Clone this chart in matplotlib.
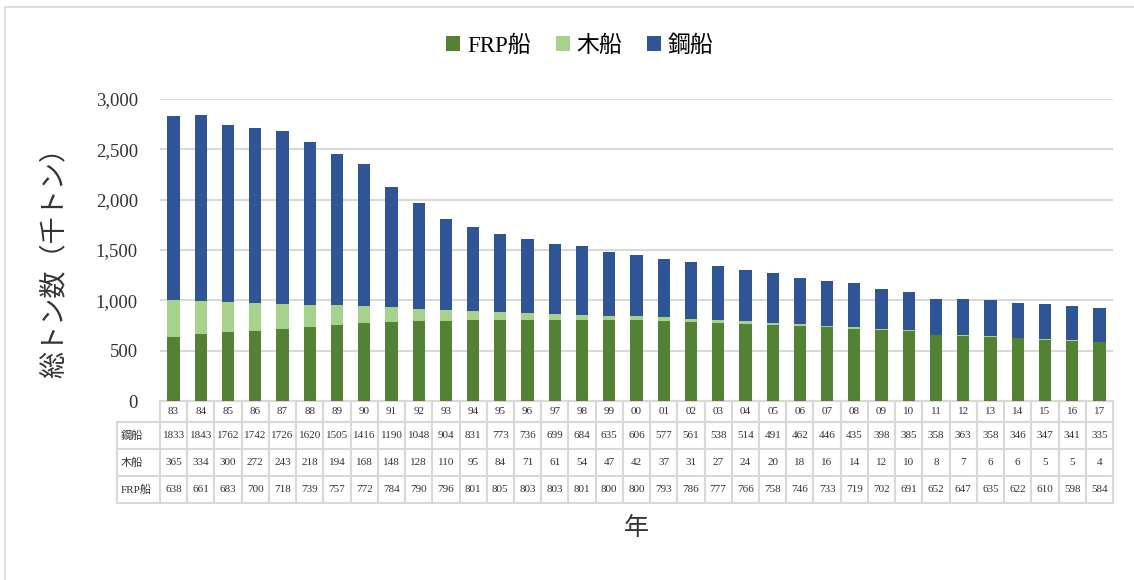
import matplotlib
matplotlib.use("Agg")
import matplotlib.pyplot as plt
from matplotlib.patches import Rectangle
import numpy as np

FONT = ['Liberation Serif', 'Noto Sans CJK JP', 'DejaVu Sans']
plt.rcParams['font.family'] = FONT

# データ（千トン）
years = ["83", "84", "85", "86", "87", "88", "89", "90", "91", "92", "93", "94", "95", "96", "97", "98", "99",
         "00", "01", "02", "03", "04", "05", "06", "07", "08", "09", "10", "11", "12", "13", "14", "15", "16", "17"]
steel = [1833, 1843, 1762, 1742, 1726, 1620, 1505, 1416, 1190, 1048, 904, 831, 773, 736, 699, 684, 635,
         606, 577, 561, 538, 514, 491, 462, 446, 435, 398, 385, 358, 363, 358, 346, 347, 341, 335]
wood = [365, 334, 300, 272, 243, 218, 194, 168, 148, 128, 110, 95, 84, 71, 61, 54, 47,
        42, 37, 31, 27, 24, 20, 18, 16, 14, 12, 10, 8, 7, 6, 6, 5, 5, 4]
frp = [638, 661, 683, 700, 718, 739, 757, 772, 784, 790, 796, 801, 805, 803, 803, 801, 800,
       800, 793, 786, 777, 766, 758, 746, 733, 719, 702, 691, 652, 647, 635, 622, 610, 598, 584]
row_names = ["鋼船", "木船", "FRP船"]

C_FRP = "#548235"
C_WOOD = "#A9D18E"
C_STEEL = "#2F5597"
GRID = "#D9D9D9"
TXT = "#333333"

fig = plt.figure(figsize=(11.34, 5.8), dpi=100)
ax = fig.add_axes([160 / 1134, 1 - 401 / 580, (1113 - 160) / 1134, (401 - 99) / 580])

x = np.arange(len(years))
frp_a = np.array(frp)
wood_a = np.array(wood)
steel_a = np.array(steel)
w = 0.45
ax.bar(x, frp_a, w, color=C_FRP, label="FRP船", zorder=3)
ax.bar(x, wood_a, w, bottom=frp_a, color=C_WOOD, label="木船", zorder=3)
ax.bar(x, steel_a, w, bottom=frp_a + wood_a, color=C_STEEL, label="鋼船", zorder=3)

ax.set_xlim(-0.5, len(years) - 0.5)
ax.set_ylim(0, 3000)
ax.set_yticks(range(0, 3001, 500))
ax.set_yticklabels([f"{v:,}" for v in range(0, 3001, 500)], fontsize=13.5, color=TXT)
ax.set_xticks([])
ax.tick_params(axis="y", length=0, pad=16)
ax.grid(axis="y", color=GRID, linewidth=1.5, zorder=0)
for s in ax.spines.values():
    s.set_visible(False)

# 表（1列目は行ラベル）
cell_text = [[""] + years]
for name, vals in zip(row_names, [steel, wood, frp]):
    cell_text.append([name] + [str(v) for v in vals])
col_w = 953 / len(years)
widths = [(160 - 117) / 996] + [col_w / 996] * len(years)
tbl = ax.table(cellText=cell_text, colWidths=widths, cellLoc="center",
               bbox=[-(160 - 117) / 953, -(503 - 401) / 302, 996 / 953, (503 - 401) / 302])
tbl.auto_set_font_size(False)
tbl.set_fontsize(8)
row_h = [21, 27, 27, 27]
for (r, c), cell in tbl.get_celld().items():
    cell.set_edgecolor(GRID)
    cell.set_linewidth(1.5)
    cell.set_height(row_h[r] / 102)
    cell.get_text().set_color(TXT)
    cell.get_text().set_fontfamily(FONT)
    if c == 0:
        cell.get_text().set_horizontalalignment("left")
        cell.PAD = 0.08
    if r == 0 and c == 0:
        cell.set_edgecolor("none")
        cell.set_facecolor("none")

ax.set_ylabel("総トン数（千トン）", fontsize=19.5, color=TXT)
ax.yaxis.set_label_coords(-(160 - 68) / 953, 0.48)
fig.text(636 / 1134, 1 - 528 / 580, "年", fontsize=18, ha="center", va="center", color=TXT)

fig.legend(loc="center", bbox_to_anchor=(580 / 1134, 1 - 46 / 580), ncol=3, frameon=False,
           fontsize=16.5, handlelength=0.6, handleheight=0.6, handletextpad=0.3, columnspacing=1.1)

fig.add_artist(Rectangle((5 / 1134, -0.01), 1.1, 1 - 7 / 580 + 0.01, transform=fig.transFigure,
                         fill=False, edgecolor=GRID, linewidth=1.2))

fig.savefig("out.png", dpi=100)
